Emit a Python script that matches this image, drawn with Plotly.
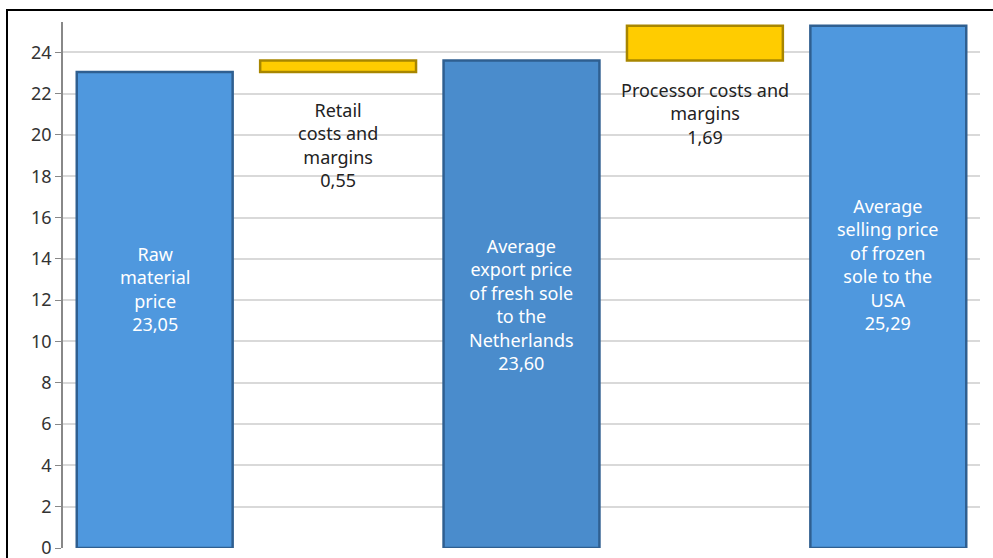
import plotly.graph_objects as go

categories = ["Raw material price", "Retail costs and margins",
              "Average export price of fresh sole to the Netherlands",
              "Processor costs and margins",
              "Average selling price of frozen sole to the USA"]
values = [23.05, 0.55, 23.60, 1.69, 25.29]
kinds = ["total", "delta", "total", "delta", "total"]
label_texts = ["Raw<br>material<br>price",
               "Retail<br>costs and<br>margins",
               "Average<br>export price<br>of fresh sole<br>to the<br>Netherlands",
               "Processor costs and<br>margins",
               "Average<br>selling price<br>of frozen<br>sole to the<br>USA"]
y_ticks = list(range(0, 25, 2))

# floating bases for the waterfall
bases = []
running = 0.0
for v, k in zip(values, kinds):
    if k == "total":
        bases.append(0.0)
        running = v
    else:
        bases.append(running)
        running += v

fills = ["#4F98DE", "#FFCC00", "#4A8CCC", "#FFCC00", "#4F98DE"]
edges = ["#2F5F90", "#A88600", "#2F5F90", "#A88600", "#2F5F90"]

fig = go.Figure()
fig.add_trace(go.Bar(
    x=categories, y=values, base=bases,
    marker=dict(color=fills, line=dict(color=edges, width=2.5)),
    width=0.85, hoverinfo="skip", showlegend=False,
))

fmt = lambda v: f"{v:.2f}".replace(".", ",")
yshift_inside = [21, 0, 0, 0, 22]
yshift_below = [0, -24, 0, -15, 0]
for i, (c, v, b, k, t) in enumerate(zip(categories, values, bases, kinds, label_texts)):
    txt = f"{t}<br>{fmt(v)}"
    if k == "total":
        fig.add_annotation(x=c, y=b + v / 2, text=txt, showarrow=False,
                           yanchor="middle", yshift=yshift_inside[i],
                           font=dict(color="white", size=18, family="Noto Sans"))
    else:
        fig.add_annotation(x=c, y=b, text=txt, showarrow=False,
                           yanchor="top", yshift=yshift_below[i],
                           font=dict(color="#222222", size=18, family="Noto Sans"))

# outer frame of the chart
W, H = 993, 558
ml, mr, mt, mb = 63, 13, 22, 10
pw, ph = W - ml - mr, H - mt - mb
fig.add_shape(type="rect", xref="paper", yref="paper",
              x0=(7 - ml) / pw, x1=1.2, y0=-0.2, y1=(H - mb - 10) / ph,
              line=dict(color="black", width=2), fillcolor="rgba(0,0,0,0)", layer="above")

fig.update_layout(
    width=W, height=H, margin=dict(l=ml, r=mr, t=mt, b=mb, autoexpand=False),
    paper_bgcolor="white", plot_bgcolor="white",
    font=dict(family="Noto Sans", size=18, color="#333333"),
    bargap=0.15,
    xaxis=dict(showticklabels=False, showgrid=False, zeroline=False,
               showline=False, ticks="", automargin=False),
    yaxis=dict(range=[0, 25.47], tickvals=y_ticks, ticks="outside", ticklen=6,
               tickcolor="#888888", showline=True, linecolor="#888888", linewidth=1.5,
               gridcolor="#D9D9D9", gridwidth=1.5, zeroline=False,
               ticklabeloverflow="allow", automargin=False,
               tickfont=dict(size=18, color="#333333")),
)

fig.write_html("out.html", config={"displayModeBar": False},
               post_script="document.body.style.margin='0';document.body.style.overflow='hidden';")
